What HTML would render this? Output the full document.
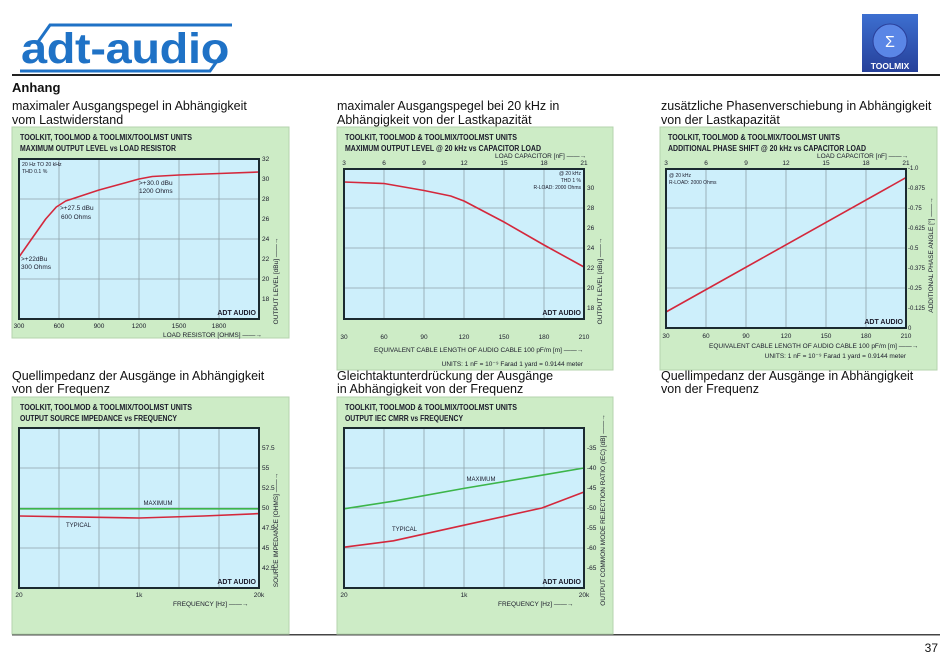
<!DOCTYPE html>
<html><head><meta charset="utf-8"><style>
html,body{margin:0;padding:0;background:#fff;}
svg{display:block;font-family:"Liberation Sans",sans-serif;}
</style></head><body>
<svg id="page" width="950" height="655" viewBox="0 0 950 655" xmlns="http://www.w3.org/2000/svg">
<defs><linearGradient id="tmg" x1="0" y1="0" x2="0" y2="1"><stop offset="0" stop-color="#3d6fd0"/><stop offset="1" stop-color="#26409a"/></linearGradient></defs>
<g>
<polyline points="38,42 50,25 232,25" fill="none" stroke="#1f72c6" stroke-width="3"/>
<polyline points="20,71 210,71 222,54" fill="none" stroke="#1f72c6" stroke-width="3"/>
<text x="21" y="63" font-size="43" font-weight="bold" fill="#1f72c6" letter-spacing="-0.3" textLength="208" lengthAdjust="spacingAndGlyphs">adt-audio</text>
</g>
<g>
<rect x="862" y="14" width="56" height="58" fill="url(#tmg)"/>
<circle cx="890" cy="41" r="17" fill="#5a86e6" stroke="#2a3f9a" stroke-width="1"/>
<text x="890" y="47" font-size="16" fill="#fff" text-anchor="middle">Σ</text>
<text x="890" y="69" font-size="8.5" font-weight="bold" fill="#fff" text-anchor="middle">TOOLMIX</text>
</g>
<rect x="12" y="74" width="928" height="2" fill="#222"/>
<text x="12" y="92" font-size="13" font-weight="bold" fill="#111">Anhang</text>
<g font-size="12.5" fill="#111">
<text x="12" y="110">maximaler Ausgangspegel in Abhängigkeit<tspan x="12" y="124">vom Lastwiderstand</tspan></text>
<text x="337" y="110">maximaler Ausgangspegel bei 20 kHz in<tspan x="337" y="124">Abhängigkeit von der Lastkapazität</tspan></text>
<text x="661" y="110">zusätzliche Phasenverschiebung in Abhängigkeit<tspan x="661" y="124">von der Lastkapazität</tspan></text>
<text x="12" y="380">Quellimpedanz der Ausgänge in Abhängigkeit<tspan x="12" y="393">von der Frequenz</tspan></text>
<text x="337" y="380">Gleichtaktunterdrückung der Ausgänge<tspan x="337" y="393">in Abhängigkeit von der Frequenz</tspan></text>
<text x="661" y="380">Quellimpedanz der Ausgänge in Abhängigkeit<tspan x="661" y="393">von der Frequenz</tspan></text>
</g>
<rect x="12" y="634" width="928" height="1.5" fill="#444"/>
<text x="938" y="652" font-size="12" text-anchor="end" fill="#111">37</text>
</svg>
<script>
// ---- chart data ----
const c1Res=[300,400,500,580,650,900,1200,1300,1500,1800,2100];
const c1Level=[22.2,24.1,26.0,27.2,27.8,28.9,30.0,30.25,30.4,30.55,30.7];
const c1XTicks=[300,600,900,1200,1500,1800];
const c1YTicks=[18,20,22,24,26,28,30,32];
const c2Cable=[30,60,90,110,120,150,180,210];
const c2Level=[30.6,30.45,29.75,29.2,28.7,26.6,24.3,22.1];
const c2XTicks=[30,60,90,120,150,180,210];
const c2CapTicks=[3,6,9,12,15,18,21];
const c2YTicks=[18,20,22,24,26,28,30];
const c3Cable=[30,210];
const c3Phase=[0.1,0.94];
const c3YTicks=[0,0.125,0.25,0.375,0.5,0.625,0.75,0.875,1.0];
const c3YLabels=["0","-0.125","-0.25","-0.375","-0.5","-0.625","-0.75","-0.875","-1.0"];
const c4Freq=[20,200,1000,5000,20000];
const c4Max=[49.9,49.9,49.9,49.9,49.9];
const c4Typ=[49.0,48.85,48.75,49.0,49.3];
const c4YTicks=[42.5,45,47.5,50,52.5,55,57.5];
const fTicks=[20,1000,20000];
const fTickLabels=["20","1k","20k"];
const c5Freq=[20,100,1000,7000,20000];
const c5Max=[-50.2,-48.3,-45.1,-41.8,-40.0];
const c5Typ=[-59.8,-58.2,-54.3,-50.0,-46.0];
const c5YTicks=[-65,-60,-55,-50,-45,-40,-35];

const NS='http://www.w3.org/2000/svg';
const svg=document.getElementById('page');
function mk(tag,attrs,parent,text){const e=document.createElementNS(NS,tag);for(const k in attrs)e.setAttribute(k,attrs[k]);if(text!==undefined)e.textContent=text;(parent||svg).appendChild(e);return e;}
function lin(d0,d1,r0,r1){return v=>r0+(v-d0)*(r1-r0)/(d1-d0);}
function flog(x0){return f=>f<=1000?x0+120*Math.log(f/20)/Math.log(50):x0+120+120*Math.log(f/1000)/Math.log(20);}
const RED='#d4283c',GREEN='#3cb54a',GRID='#8fa3ab';

function panel(name,x,y,w,h,t1,t2,l1,l2){
  const g=mk('g',{});
  
  
  const r=mk('rect',{x:x,y:y,width:w,height:h,fill:'#cdecc6',stroke:'#b5d3ae','stroke-width':1},g);
  
  
  const a=mk('text',{x:x+8,y:y+13,'font-size':8,'font-weight':'bold',fill:'#1a1a2a',textLength:l1,lengthAdjust:'spacingAndGlyphs'},g,t1);
  
  
  const b=mk('text',{x:x+8,y:y+24,'font-size':8,'font-weight':'bold',fill:'#1a1a2a',textLength:l2,lengthAdjust:'spacingAndGlyphs'},g,t2);
  
  
  return g;
}
function plotArea(g,x0,y0,x1,y1,vx,hy){
  const bg=mk('rect',{x:x0,y:y0,width:x1-x0,height:y1-y0,fill:'#cdeffb'},g);
  
  
  vx.forEach(x=>{const l=mk('line',{x1:x,x2:x,y1:y0,y2:y1,stroke:GRID,'stroke-width':0.8},g);
    
    });
  hy.forEach(y=>{const l=mk('line',{x1:x0,x2:x1,y1:y,y2:y,stroke:GRID,'stroke-width':0.8},g);
    
    });
}
function frame(g,x0,y0,x1,y1){
  const f=mk('rect',{x:x0,y:y0,width:x1-x0,height:y1-y0,fill:'none',stroke:'#1b2a30','stroke-width':2},g);
  
  
  const t=mk('text',{x:x1-3,y:y1-4,'font-size':7,'font-weight':'bold','text-anchor':'end',fill:'#1a1a2a'},g,'ADT AUDIO');
  
  
}
function series(g,xs,ys,xv,yv,color,name){
  const pts=xv.map((v,i)=>xs(v).toFixed(1)+','+ys(yv[i]).toFixed(1)).join(' ');
  const p=mk('polyline',{points:pts,fill:'none',stroke:color,'stroke-width':1.6,'stroke-linejoin':'round'},g);
  
  
}
function txt(g,x,y,s,name,opts){
  const a=Object.assign({x:x,y:y,'font-size':6.5,fill:'#1a1a2a'},opts||{});
  const t=mk('text',a,g,s);
  
  
  return t;
}
function vtitle(g,x,y,s,name){
  return txt(g,x,y,s,name,{transform:'rotate(-90 '+x+' '+y+')','text-anchor':'middle','font-size':6.5});
}

// ---- Chart 1 ----
(function(){
  const g=panel('chart-output-level-vs-load',12,127,277,211,'TOOLKIT, TOOLMOD & TOOLMIX/TOOLMST UNITS','MAXIMUM OUTPUT LEVEL vs LOAD RESISTOR',172,156);
  const xs=lin(300,2100,19,259),ys=lin(16,32,319,159);
  plotArea(g,19,159,259,319,[600,900,1200,1500,1800].map(xs),[20,24,28].map(ys));
  series(g,xs,ys,c1Res,c1Level,RED,'output-level-line');
  frame(g,19,159,259,319);
  c1XTicks.forEach(v=>txt(g,xs(v),328,String(v),'x-tick-label',{'text-anchor':'middle'}));
  c1YTicks.forEach(v=>txt(g,262,ys(v)+2,String(v),'y-tick-label'));
  txt(g,22,166,'20 Hz TO 20 kHz','note-frequency',{'font-size':5.2});
  txt(g,22,173,'THD 0.1 %','note-thd',{'font-size':5.2});
  txt(g,21,261,'>+22dBu','annotation-300',{});txt(g,21,269,'300 Ohms','annotation-300-ohms',{});
  txt(g,60,210,'>+27.5 dBu','annotation-600',{});txt(g,61,219,'600 Ohms','annotation-600-ohms',{});
  txt(g,139,185,'>+30.0 dBu','annotation-1200',{});txt(g,139,193,'1200 Ohms','annotation-1200-ohms',{});
  txt(g,163,337,'LOAD RESISTOR  [OHMS]  ——→','x-axis-title',{});
  vtitle(g,278,281,'OUTPUT LEVEL  [dBu]  ——→','y-axis-title');
})();

// ---- Chart 2 ----
(function(){
  const g=panel('chart-output-level-vs-capacitor',337,127,276,243,'TOOLKIT, TOOLMOD & TOOLMIX/TOOLMST UNITS','MAXIMUM OUTPUT LEVEL @ 20 kHz vs CAPACITOR LOAD',172,196);
  const xs=lin(30,210,344,584),ys=lin(16,32,328,168);
  plotArea(g,344,169,584,319,[60,90,120,150,180].map(xs),[20,24,28].map(ys));
  series(g,xs,ys,c2Cable,c2Level,RED,'output-level-line');
  frame(g,344,169,584,319);
  c2XTicks.forEach(v=>txt(g,xs(v),339,String(v),'x-tick-label',{'text-anchor':'middle'}));
  c2CapTicks.forEach(v=>txt(g,xs(v*10),165,String(v),'top-tick-label',{'text-anchor':'middle'}));
  c2YTicks.forEach(v=>txt(g,587,ys(v)+2,String(v),'y-tick-label'));
  txt(g,495,158,'LOAD CAPACITOR  [nF]  ——→','top-axis-title',{});
  txt(g,581,175,'@ 20 kHz','note-frequency',{'font-size':5,'text-anchor':'end'});
  txt(g,581,182,'THD 1 %','note-thd',{'font-size':5,'text-anchor':'end'});
  txt(g,581,189,'R-LOAD: 2000 Ohms','note-load',{'font-size':5,'text-anchor':'end'});
  txt(g,374,352,'EQUIVALENT CABLE LENGTH OF AUDIO CABLE 100 pF/m  [m]  ——→','x-axis-title',{});
  txt(g,583,366,'UNITS: 1 nF = 10⁻⁹ Farad    1 yard = 0.9144 meter','units-note',{'text-anchor':'end'});
  vtitle(g,602,281,'OUTPUT LEVEL  [dBu]  ——→','y-axis-title');
})();

// ---- Chart 3 ----
(function(){
  const g=panel('chart-phase-shift-vs-capacitor',660,127,277,243,'TOOLKIT, TOOLMOD & TOOLMIX/TOOLMST UNITS','ADDITIONAL PHASE SHIFT @ 20 kHz vs CAPACITOR LOAD',172,198);
  const xs=lin(30,210,666,906),ys=lin(0,1,328,168);
  plotArea(g,666,169,906,328,[60,90,120,150,180].map(xs),[0.25,0.5,0.75].map(ys));
  series(g,xs,ys,c3Cable,c3Phase,RED,'phase-shift-line');
  frame(g,666,169,906,328);
  c2XTicks.forEach(v=>txt(g,xs(v),338,String(v),'x-tick-label',{'text-anchor':'middle'}));
  c2CapTicks.forEach(v=>txt(g,xs(v*10),165,String(v),'top-tick-label',{'text-anchor':'middle'}));
  c3YTicks.forEach((v,i)=>txt(g,908,ys(v)+2,c3YLabels[i],'y-tick-label',{'font-size':6}));
  txt(g,817,158,'LOAD CAPACITOR  [nF]  ——→','top-axis-title',{});
  txt(g,669,177,'@ 20 kHz','note-frequency',{'font-size':5});
  txt(g,669,184,'R-LOAD: 2000 Ohms','note-load',{'font-size':5});
  txt(g,709,348,'EQUIVALENT CABLE LENGTH OF AUDIO CABLE 100 pF/m  [m]  ——→','x-axis-title',{});
  txt(g,906,358,'UNITS: 1 nF = 10⁻⁹ Farad    1 yard = 0.9144 meter','units-note',{'text-anchor':'end'});
  vtitle(g,933,255,'ADDITIONAL PHASE ANGLE  [°]  ——→','y-axis-title');
})();

// ---- Chart 4 ----
(function(){
  const g=panel('chart-source-impedance-vs-frequency',12,397,277,237,'TOOLKIT, TOOLMOD & TOOLMIX/TOOLMST UNITS','OUTPUT SOURCE IMPEDANCE  vs FREQUENCY',172,157);
  const xs=flog(19),ys=lin(40,60,588,428);
  plotArea(g,19,428,259,588,[1,2,3,4,5].map(i=>19+40*i),[45,50,55].map(ys));
  series(g,xs,ys,c4Freq,c4Max,GREEN,'maximum-line');
  series(g,xs,ys,c4Freq,c4Typ,RED,'typical-line');
  frame(g,19,428,259,588);
  fTicks.forEach((v,i)=>txt(g,xs(v),597,fTickLabels[i],'x-tick-label',{'text-anchor':'middle'}));
  c4YTicks.forEach(v=>txt(g,262,ys(v)+2,String(v),'y-tick-label'));
  txt(g,158,505,'MAXIMUM','maximum-label',{'text-anchor':'middle','font-size':6});
  txt(g,66,527,'TYPICAL','typical-label',{'font-size':6});
  txt(g,173,606,'FREQUENCY  [Hz]        ——→','x-axis-title',{});
  vtitle(g,278,530,'SOURCE IMPEDANCE  [OHMS]  ——→','y-axis-title');
})();

// ---- Chart 5 ----
(function(){
  const g=panel('chart-cmrr-vs-frequency',337,397,276,237,'TOOLKIT, TOOLMOD & TOOLMIX/TOOLMST UNITS','OUTPUT IEC CMRR  vs FREQUENCY',172,118);
  const xs=flog(344),ys=lin(-70,-30,588,428);
  plotArea(g,344,428,584,588,[1,2,3,4,5].map(i=>344+40*i),[-60,-50,-40].map(ys));
  series(g,xs,ys,c5Freq,c5Max,GREEN,'maximum-line');
  series(g,xs,ys,c5Freq,c5Typ,RED,'typical-line');
  frame(g,344,428,584,588);
  fTicks.forEach((v,i)=>txt(g,xs(v),597,fTickLabels[i],'x-tick-label',{'text-anchor':'middle'}));
  c5YTicks.forEach(v=>txt(g,587,ys(v)+2,String(v),'y-tick-label'));
  txt(g,481,481,'MAXIMUM','maximum-label',{'text-anchor':'middle','font-size':6});
  txt(g,392,531,'TYPICAL','typical-label',{'font-size':6});
  txt(g,498,606,'FREQUENCY  [Hz]        ——→','x-axis-title',{});
  vtitle(g,605,510,'OUTPUT COMMON MODE REJECTION RATIO (IEC) [dB]  ——→','y-axis-title');
})();
</script>
</body></html>
